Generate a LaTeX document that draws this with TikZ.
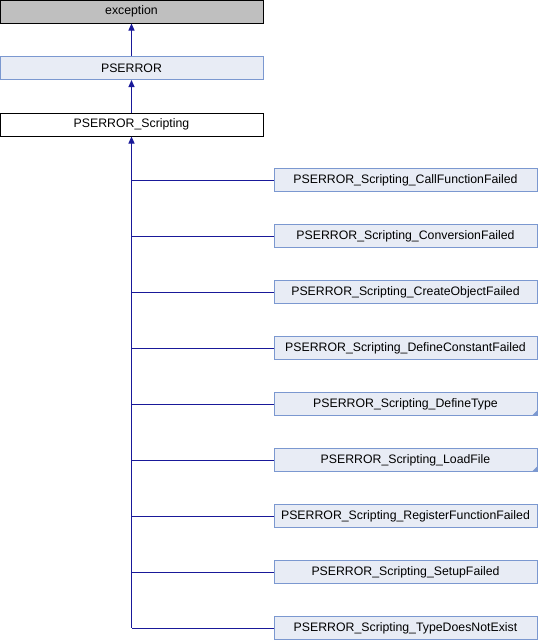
\documentclass[tikz,border=0pt]{standalone}
\usepackage{fontspec}
\setmainfont{Liberation Sans}
\usetikzlibrary{arrows.meta}
\definecolor{nodefill}{HTML}{E8ECF5}
\definecolor{nodeline}{HTML}{7B98D0}
\definecolor{edge}{HTML}{191999}
\definecolor{greyfill}{HTML}{BFBFBF}
\begin{document}
\begin{tikzpicture}[x=1pt,y=-1pt,
  cls/.style={draw=nodeline,fill=nodefill,line width=1pt,minimum height=23pt,inner sep=0pt,font=\fontsize{12.3}{14}\selectfont},
  top/.style={cls,minimum width=263pt},
  child/.style={cls,minimum width=263pt},
  inh/.style={draw=edge,line width=1pt,-{Triangle[length=7pt,width=6pt]}},
  link/.style={draw=edge,line width=1pt}]
\useasboundingbox (0,0) rectangle (538,640);
\node[top,fill=greyfill,draw=black] (exc) at (131.5,11.5) {exception};
\node[top] (pse) at (131.5,68) {PSERROR};
\node[top,fill=white,draw=black] (scr) at (131.5,124.5) {PSERROR\_Scripting};
\foreach \n/\t [count=\i from 0] in {a/CallFunctionFailed,b/ConversionFailed,c/CreateObjectFailed,d/DefineConstantFailed,e/DefineType,f/LoadFile,g/RegisterFunctionFailed,h/SetupFailed,k/TypeDoesNotExist}{
  \node[child] (\n) at (405.5,180+56*\i) {PSERROR\_Scripting\_\t};
}
\foreach \n in {e,f}{
  \fill[nodeline] (\n.south east) ++(-0.5,-0.5) -- ++(-5,0) -- ++(5,-5) -- cycle;
}
\draw[inh] (pse.north) -- (exc.south);
\draw[inh] (scr.north) -- (pse.south);
\coordinate (bend) at (scr.south |- k.west);
\draw[inh] (bend) -- (scr.south);
\foreach \n in {a,b,c,d,e,f,g,h,k}{
  \draw[link] (\n.west) -- (scr.south |- \n.west);
}
\end{tikzpicture}
\end{document}
